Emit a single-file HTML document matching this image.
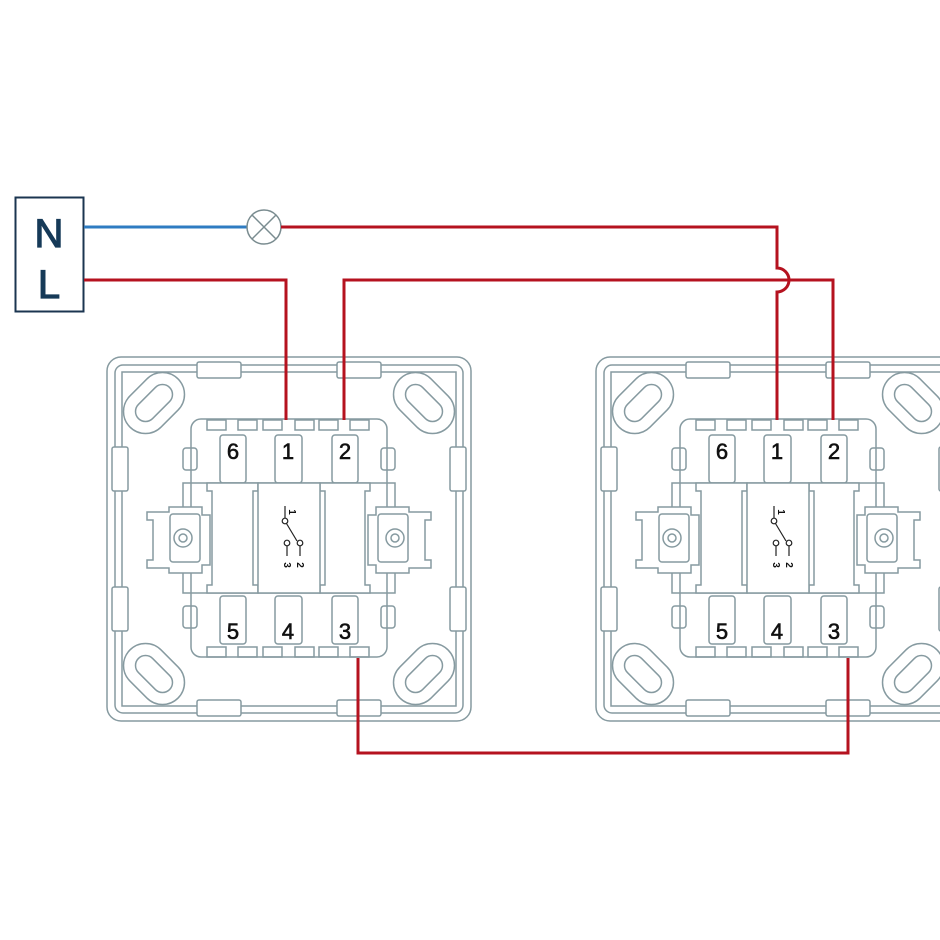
<!DOCTYPE html>
<html><head><meta charset="utf-8"><style>html,body{margin:0;padding:0;background:#fff}svg{display:block}</style></head><body>
<svg width="940" height="940" viewBox="0 0 940 940" xmlns="http://www.w3.org/2000/svg">
<defs>
<g id="sw" fill="none" stroke="#869aa0" stroke-width="1.5">
  <rect x="107" y="357" width="364" height="364" rx="14" fill="#fff"/>
  <rect x="115" y="365" width="348" height="348" rx="8"/>
  <path d="M122 372 L456 372 L456 706 L122 706 Z"/>
  <rect x="197" y="362" width="44" height="16" rx="2" fill="#fff"/>
  <rect x="337" y="362" width="44" height="16" rx="2" fill="#fff"/>
  <rect x="197" y="700" width="44" height="16" rx="2" fill="#fff"/>
  <rect x="337" y="700" width="44" height="16" rx="2" fill="#fff"/>
  <rect x="112" y="447" width="16" height="44" rx="2" fill="#fff"/>
  <rect x="112" y="587" width="16" height="44" rx="2" fill="#fff"/>
  <rect x="450" y="447" width="16" height="44" rx="2" fill="#fff"/>
  <rect x="450" y="587" width="16" height="44" rx="2" fill="#fff"/>
  <g fill="#fff">
    <g transform="translate(154,403) rotate(-45)"><rect x="-34" y="-22" width="68" height="44" rx="22"/><rect x="-22" y="-10" width="44" height="20" rx="10"/></g>
    <g transform="translate(424,403) rotate(45)"><rect x="-34" y="-22" width="68" height="44" rx="22"/><rect x="-22" y="-10" width="44" height="20" rx="10"/></g>
    <g transform="translate(154,674) rotate(45)"><rect x="-34" y="-22" width="68" height="44" rx="22"/><rect x="-22" y="-10" width="44" height="20" rx="10"/></g>
    <g transform="translate(424,674) rotate(-45)"><rect x="-34" y="-22" width="68" height="44" rx="22"/><rect x="-22" y="-10" width="44" height="20" rx="10"/></g>
  </g>
  <rect x="191" y="419" width="196" height="238" rx="10" fill="#fff"/>
  <rect x="207" y="420" width="19" height="10"/><rect x="238" y="420" width="19" height="10"/><rect x="263" y="420" width="19" height="10"/><rect x="295" y="420" width="19" height="10"/><rect x="319" y="420" width="19" height="10"/><rect x="350" y="420" width="19" height="10"/>
  <rect x="207" y="647" width="19" height="10"/><rect x="238" y="647" width="19" height="10"/><rect x="263" y="647" width="19" height="10"/><rect x="295" y="647" width="19" height="10"/><rect x="319" y="647" width="19" height="10"/><rect x="350" y="647" width="19" height="10"/>
  <rect x="183" y="448" width="14" height="22" rx="3"/><rect x="381" y="448" width="14" height="22" rx="3"/>
  <rect x="183" y="606" width="14" height="22" rx="3"/><rect x="381" y="606" width="14" height="22" rx="3"/>
  <rect x="220" y="435" width="26" height="48" rx="3"/><rect x="275" y="435" width="27" height="48" rx="3"/><rect x="332" y="435" width="26" height="48" rx="3"/>
  <rect x="220" y="596" width="26" height="48" rx="3"/><rect x="275" y="596" width="27" height="48" rx="3"/><rect x="332" y="596" width="26" height="48" rx="3"/>
  <rect x="183" y="483" width="212" height="110"/>
  <path d="M207 483 h51 v8 h-5 v94 h5 v8 h-51 v-8 h5 v-94 h-5 z" fill="#fff"/>
  <path d="M320 483 h50 v8 h-5 v94 h5 v8 h-50 v-8 h5 v-94 h-5 z" fill="#fff"/>
  <rect x="258" y="483" width="62" height="110" fill="#fff"/>
  <path d="M147 512 h22 v-5 h33 v8 h8 v50 h-8 v8 h-33 v-5 h-22 v-8 h6 v-40 h-6 z" fill="#fff"/>
  <rect x="170" y="514" width="30" height="48" rx="3"/>
  <circle cx="183" cy="538" r="9"/><circle cx="183" cy="538" r="4"/>
  <path d="M431 512 h-22 v-5 h-33 v8 h-8 v50 h8 v8 h33 v-5 h22 v-8 h-6 v-40 h6 z" fill="#fff"/>
  <rect x="378" y="514" width="30" height="48" rx="3"/>
  <circle cx="395" cy="538" r="9"/><circle cx="395" cy="538" r="4"/>
  <g stroke="#222" stroke-width="1.2">
    <path d="M285 506 V518"/><circle cx="285" cy="521" r="2.8"/>
    <path d="M286.5 523.5 L297 541"/>
    <circle cx="287" cy="543" r="2.8"/><circle cx="300" cy="543" r="2.8"/>
    <path d="M287 546 V556 M300 546 V556"/>
  </g>
</g>
</defs>
<use href="#sw"/>
<use href="#sw" transform="translate(489,0)"/>
<g font-family="Liberation Sans, sans-serif" font-size="22" fill="#111" stroke="#111" stroke-width="0.6" text-anchor="middle">
  <text x="233" y="459">6</text><text x="288" y="459">1</text><text x="345" y="459">2</text>
  <text x="233" y="639">5</text><text x="288" y="639">4</text><text x="345" y="639">3</text>
  <text x="722" y="459">6</text><text x="777" y="459">1</text><text x="834" y="459">2</text>
  <text x="722" y="639">5</text><text x="777" y="639">4</text><text x="834" y="639">3</text>
</g>
<g font-family="Liberation Sans, sans-serif" font-size="10" font-weight="bold" fill="#111" text-anchor="middle">
  <text transform="translate(289,512) rotate(90)">1</text>
  <text transform="translate(284,565) rotate(90)">3</text>
  <text transform="translate(297,565) rotate(90)">2</text>
  <text transform="translate(778,512) rotate(90)">1</text>
  <text transform="translate(773,565) rotate(90)">3</text>
  <text transform="translate(786,565) rotate(90)">2</text>
</g>
<rect x="15.5" y="197.5" width="68" height="114" fill="#fff" stroke="#1b3550" stroke-width="2"/>
<g font-family="Liberation Sans, sans-serif" font-size="40" fill="#163a58" stroke="#163a58" stroke-width="1.2" text-anchor="middle">
  <text x="49" y="247">N</text><text x="49" y="298">L</text>
</g>
<path d="M84 227 H247" stroke="#2f7cc2" stroke-width="3" fill="none"/>
<circle cx="264" cy="227" r="17" fill="#fff" stroke="#7a8c90" stroke-width="1.5"/>
<path d="M252 215 L276 239 M276 215 L252 239" stroke="#7a8c90" stroke-width="1.5"/>
<g stroke="#b5121f" stroke-width="3" fill="none">
  <path d="M281 227 H777 V268 A12 12 0 0 1 777 292 V420"/>
  <path d="M84 280 H286 V420"/>
  <path d="M344 420 V280 H833 V420"/>
  <path d="M358 658 V753 H848 V658"/>
</g>
</svg>
</body></html>
